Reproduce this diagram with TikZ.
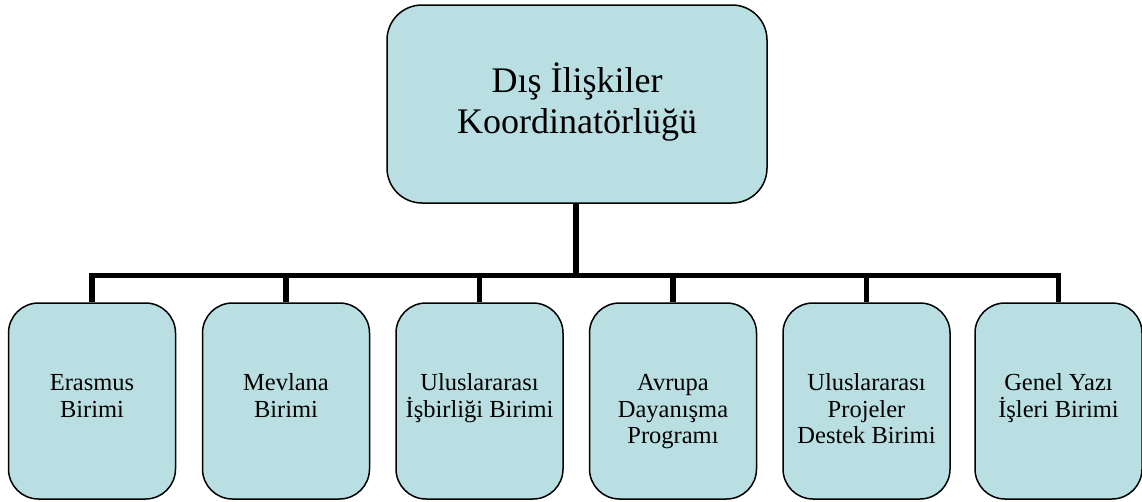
\documentclass[tikz,border=0pt]{standalone}
\usepackage{fontspec}
\setmainfont{Liberation Serif}
\definecolor{boxfill}{RGB}{186,223,227}
\begin{document}
\begin{tikzpicture}[x=1pt,y=-1pt,
  unitbox/.style={draw=black, line width=1.5pt, fill=boxfill, rounded corners=30pt,
    inner xsep=4pt, inner ysep=0pt, minimum width=167pt, minimum height=196pt,
    align=center, text height=114pt, text depth=82pt,
    font=\fontsize{24.5}{26.7}\selectfont},
  threelines/.style={text height=140.7pt, text depth=55.3pt},
  headbox/.style={draw=black, line width=1.5pt, fill=boxfill, rounded corners=35pt,
    inner xsep=4pt, inner ysep=0pt, minimum width=380pt, minimum height=198pt,
    align=center, text height=128pt, text depth=70pt,
    font=\fontsize{36}{41}\selectfont},
  link/.style={line width=5.5pt}]
\useasboundingbox (0,0) rectangle (1142,501);
\node[headbox] (top) at (577,104) {Dış İlişkiler\\Koordinatörlüğü};
\node[unitbox] (c1) at (92,401) {Erasmus\\Birimi};
\node[unitbox] (c2) at (286,401) {Mevlana\\Birimi};
\node[unitbox] (c3) at (479.5,401) {Uluslararası\\İşbirliği Birimi};
\node[unitbox,threelines] (c4) at (673,401) {Avrupa\\Dayanışma\\Programı};
\node[unitbox,threelines] (c5) at (866.5,401) {Uluslararası\\Projeler\\Destek Birimi};
\node[unitbox] (c6) at (1058.5,401) {Genel Yazı\\İşleri Birimi};
\coordinate (bar) at (576,275.5);
\draw[link] (top.south -| bar) -- (bar);
\draw[link] (c1.north) -- (c1.north |- bar) -- (c6.north |- bar) -- (c6.north);
\foreach \c in {c2,c3,c4,c5} \draw[link] (\c.north) -- (\c.north |- bar);
\end{tikzpicture}
\end{document}
